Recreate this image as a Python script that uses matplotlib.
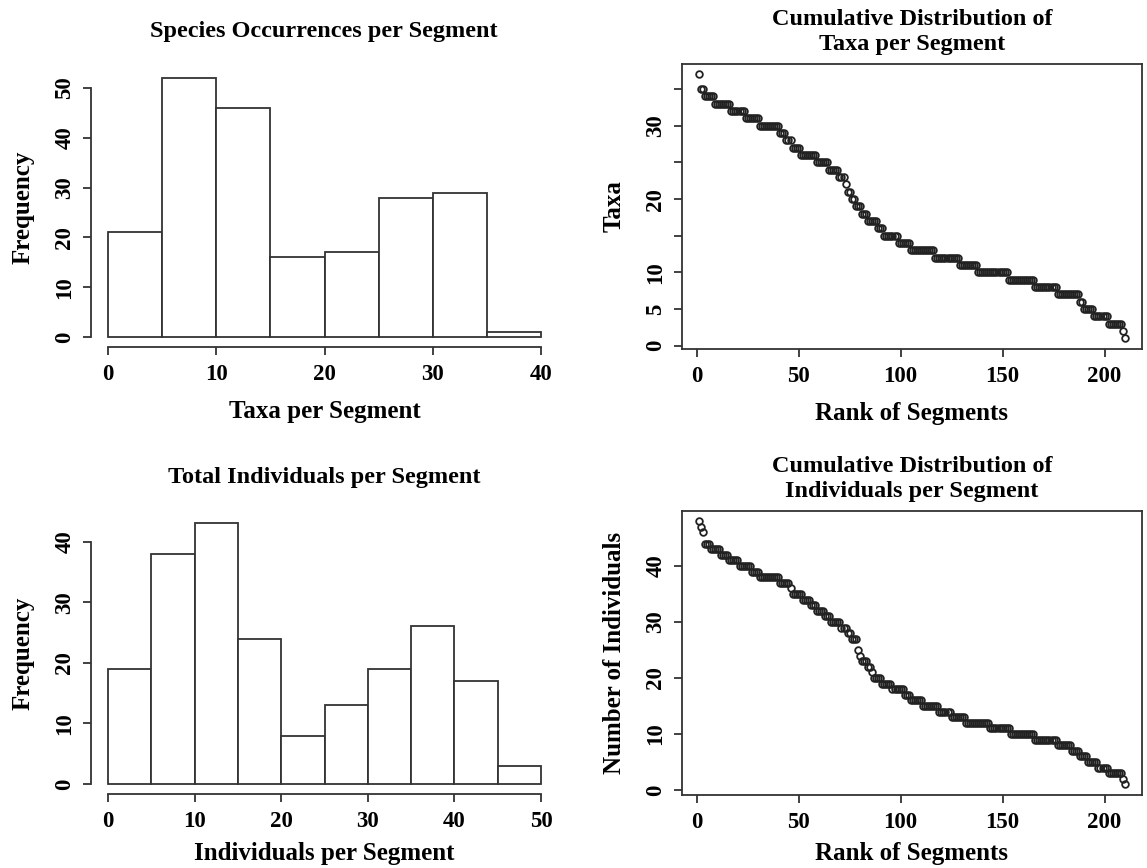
import numpy as np
import matplotlib
matplotlib.use("Agg")
import matplotlib.pyplot as plt

plt.rcParams['font.family'] = ['Liberation Serif', 'DejaVu Serif']
plt.rcParams['font.weight'] = 'bold'
plt.rcParams['axes.labelweight'] = 'bold'

# histogram counts (bins of width 5)
taxa_edges = [0, 5, 10, 15, 20, 25, 30, 35, 40]
taxa_freq = [21, 52, 46, 16, 17, 28, 29, 1]
ind_edges = [0, 5, 10, 15, 20, 25, 30, 35, 40, 45, 50]
ind_freq = [19, 38, 43, 24, 8, 13, 19, 26, 17, 3]

# sorted values per segment, as levels and how many segments sit at each level
taxa_levels = [37, 35, 34, 33, 32, 31, 30, 29, 28, 27, 26, 25, 24, 23, 22, 21, 20, 19,
               18, 17, 16, 15, 14, 13, 12, 11, 10, 9, 8, 7, 6, 5, 4, 3, 2, 1]
taxa_counts = [1, 2, 5, 8, 7, 7, 10, 3, 3, 4, 8, 6, 5, 3, 1, 2, 2, 3,
               3, 5, 3, 7, 6, 12, 12, 9, 15, 13, 11, 11, 2, 5, 7, 7, 1, 1]
ind_levels = [48, 47, 46, 44, 43, 42, 41, 40, 39, 38, 37, 36, 35, 34, 33, 32, 31, 30,
              29, 28, 27, 25, 24, 23, 22, 21, 20, 19, 18, 17, 16, 15, 14, 13, 12, 11,
              10, 9, 8, 7, 6, 5, 4, 3, 2, 1]
ind_counts = [1, 1, 1, 3, 5, 4, 5, 6, 4, 10, 5, 1, 5, 4, 3, 4, 3, 5,
              3, 2, 3, 1, 1, 3, 2, 1, 4, 5, 6, 3, 6, 8, 6, 7, 12, 10,
              12, 11, 7, 4, 4, 5, 5, 7, 1, 1]

taxa_sorted = np.repeat(taxa_levels, taxa_counts)
ind_sorted = np.repeat(ind_levels, ind_counts)

W, H = 1147, 868
fig = plt.figure(figsize=(W / 100, H / 100), dpi=100)


def box(l, r, b, t):
    return [l / W, 1 - b / H, (r - l) / W, (b - t) / H]


axc = '#333333'
tfs = 16.5
lfs = 18
hfs = 17.5


def style(ax, xt, yt, ylabs=None, open_box=True):
    ax.set_xticks(xt)
    ax.set_yticks(yt)
    ax.set_yticklabels(ylabs if ylabs is not None else [str(v) for v in yt],
                       rotation=90, va='center')
    ax.tick_params(direction='out', length=6, width=1.3, color=axc,
                   labelsize=tfs)
    ax.tick_params(axis='x', pad=6)
    ax.tick_params(axis='y', pad=5)
    for s in ax.spines.values():
        s.set_color(axc)
        s.set_linewidth(1.3)
    if open_box:
        ax.spines['top'].set_visible(False)
        ax.spines['right'].set_visible(False)
        ax.spines['bottom'].set_bounds(xt[0], xt[-1])
        ax.spines['left'].set_bounds(yt[0], yt[-1])


def hist(ax, edges, freq):
    ax.bar(edges[:-1], freq, width=np.diff(edges), align='edge',
           color='white', edgecolor='#333333', linewidth=1.3)


# top left
ax1 = fig.add_axes(box(90.7, 558.3, 347.4, 67.7))
hist(ax1, taxa_edges, taxa_freq)
ax1.set_xlim(-1.6, 41.6)
ax1.set_ylim(-2.08, 54.08)
style(ax1, [0, 10, 20, 30, 40], [0, 10, 20, 30, 40, 50])
ax1.set_xlabel('Taxa per Segment', fontsize=lfs, labelpad=11)
ax1.set_ylabel('Frequency', fontsize=lfs, labelpad=14)
fig.text(324 / W, 1 - 32 / H, 'Species Occurrences per Segment',
         ha='center', va='center', fontsize=hfs)

# bottom left
ax3 = fig.add_axes(box(90.7, 558.3, 794.4, 513))
hist(ax3, ind_edges, ind_freq)
ax3.set_xlim(-2, 52)
ax3.set_ylim(-1.72, 44.72)
style(ax3, [0, 10, 20, 30, 40, 50], [0, 10, 20, 30, 40])
ax3.set_xlabel('Individuals per Segment', fontsize=lfs, labelpad=7)
ax3.set_ylabel('Frequency', fontsize=lfs, labelpad=14)
fig.text(324 / W, 1 - 478 / H, 'Total Individuals per Segment',
         ha='center', va='center', fontsize=hfs)

# top right
ax2 = fig.add_axes(box(681.7, 1142, 349, 63.9))
rank = np.arange(1, len(taxa_sorted) + 1)
ax2.plot(rank, taxa_sorted, 'o', mfc='none', mec='#222222', ms=4.8, mew=1.3)
ax2.set_xlim(-7.36, 218.36)
ax2.set_ylim(-0.44, 38.44)
style(ax2, [0, 50, 100, 150, 200], [0, 5, 10, 15, 20, 25, 30, 35],
      ylabs=['0', '5', '10', '', '20', '', '30', ''], open_box=False)
ax2.set_xlabel('Rank of Segments', fontsize=lfs, labelpad=11)
ax2.set_ylabel('Taxa', fontsize=lfs, labelpad=14)
fig.text(912 / W, 1 - 32 / H, 'Cumulative Distribution of\nTaxa per Segment',
         ha='center', va='center', fontsize=hfs, linespacing=1.3)

# bottom right
ax4 = fig.add_axes(box(681.7, 1142, 794.9, 510.7))
rank = np.arange(1, len(ind_sorted) + 1)
ax4.plot(rank, ind_sorted, 'o', mfc='none', mec='#222222', ms=4.8, mew=1.3)
ax4.set_xlim(-7.36, 218.36)
ax4.set_ylim(-0.88, 49.88)
style(ax4, [0, 50, 100, 150, 200], [0, 10, 20, 30, 40], open_box=False)
ax4.set_xlabel('Rank of Segments', fontsize=lfs, labelpad=7)
ax4.set_ylabel('Number of Individuals', fontsize=lfs, labelpad=14)
fig.text(912 / W, 1 - 479 / H, 'Cumulative Distribution of\nIndividuals per Segment',
         ha='center', va='center', fontsize=hfs, linespacing=1.3)

fig.savefig('out.png', dpi=100)
